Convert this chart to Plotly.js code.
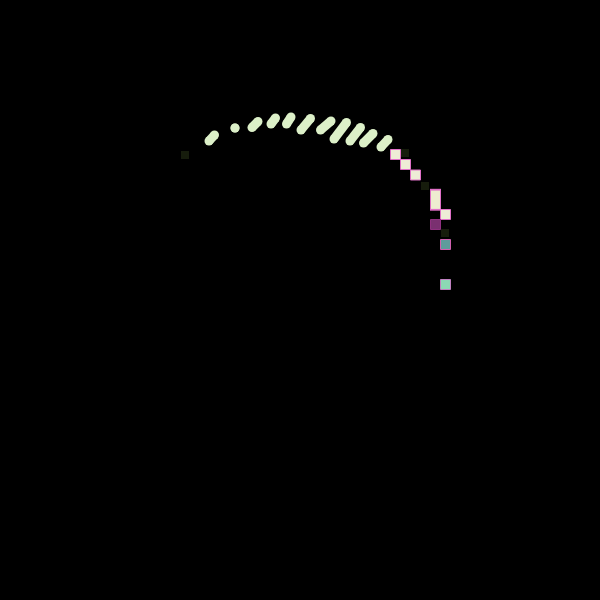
<!DOCTYPE html>
<html>
<head>
<meta charset="utf-8">
<script src="https://cdn.plot.ly/plotly-3.0.1.min.js"></script>
<style>
  html, body { margin: 0; padding: 0; background: #000; }
  #chart { width: 600px; height: 600px; }
</style>
</head>
<body>
<div id="chart"></div>
<script>
// arc of short strokes: start and end of each stroke
const strokeX0 = [209, 235, 252, 271, 286.5, 301, 320.5, 334, 350, 363.5, 381]
const strokeY0 = [141, 128, 127.5, 124, 124, 130, 130, 139, 141, 143, 147]
const strokeX1 = [214.5, 235, 258, 275.5, 291, 310.5, 331, 346.5, 360.5, 373, 388]
const strokeY1 = [135, 128, 121.5, 118, 117, 118.5, 121, 122.5, 127.5, 133.5, 139.5]

// square cells down the right side
const cellX = [395.5, 405.5, 415.5, 445.5, 435.5, 445.5, 445.5]
const cellY = [154.5, 164.5, 175, 214.5, 224.5, 244.5, 284.5]
const cellColour = ['#eeecd6', '#eeecd6', '#eeecd6', '#eeecd6', '#7a3070', '#5e9c9c', '#8cd8b4']
const cellEdge = ['#e070c8', '#e070c8', '#e070c8', '#e070c8', '#903080', '#d060b0', '#c080c0']

// the one tall cell, as a vertical bar (outer edge, then fill)
const tallX = [435.5, 435.5]
const tallEdgeY = [188.8, 210.7]
const tallFillY = [190.6, 208.9]

// faint dark specks
const speckX = [185, 405, 425, 445]
const speckY = [155, 153, 186, 233]

let lineX = []
let lineY = []
let j = -1
while (++j < strokeX0.length) {
	lineX.push(strokeX0[j], strokeX1[j], null)
	lineY.push(strokeY0[j], strokeY1[j], null)
}

Plotly.newPlot('chart', [
	{
		x: lineX,
		y: lineY,
		type: 'scatter',
		mode: 'lines+markers',
		connectgaps: false,
		line: { color: '#dcf0c8', width: 9 },
		marker: { color: '#dcf0c8', size: 9, line: { width: 0 } },
		hoverinfo: 'skip',
	},
	{
		x: speckX,
		y: speckY,
		type: 'scatter',
		mode: 'markers',
		marker: { symbol: 'square', color: '#161c0c', size: 8, line: { width: 0 } },
		hoverinfo: 'skip',
	},
	{
		x: tallX,
		y: tallEdgeY,
		type: 'scatter',
		mode: 'lines',
		line: { color: '#e070c8', width: 11 },
		hoverinfo: 'skip',
	},
	{
		x: tallX,
		y: tallFillY,
		type: 'scatter',
		mode: 'lines',
		line: { color: '#eeecd0', width: 9 },
		hoverinfo: 'skip',
	},
	{
		x: cellX,
		y: cellY,
		type: 'scatter',
		mode: 'markers',
		marker: {
			symbol: 'square',
			color: cellColour,
			size: 10,
			line: { color: cellEdge, width: 1 },
		},
		hoverinfo: 'skip',
	},
], {
	width: 600,
	height: 600,
	margin: { l: 0, r: 0, t: 0, b: 0 },
	paper_bgcolor: '#000',
	plot_bgcolor: '#000',
	showlegend: false,
	xaxis: { range: [0, 600], visible: false, showgrid: false, zeroline: false },
	yaxis: { range: [600, 0], visible: false, showgrid: false, zeroline: false },
}, { displayModeBar: false, staticPlot: true })
</script>
</body>
</html>
